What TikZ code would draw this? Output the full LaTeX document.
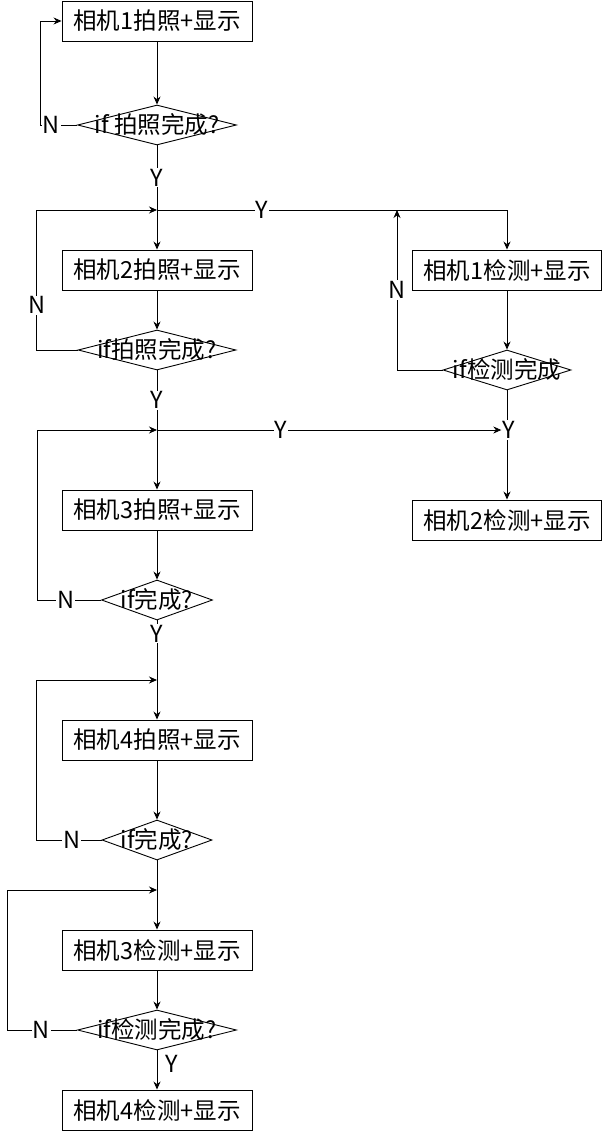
\documentclass[tikz,border=0pt]{standalone}
\usepackage{fontspec}
\setmainfont{Noto Sans CJK SC}
\usetikzlibrary{shapes.geometric, arrows.meta}

\begin{document}
\begin{tikzpicture}[x=1pt, y=-1pt,
    every node/.style={font=\fontsize{23.5}{26}\selectfont},
    box/.style={rectangle, draw, minimum width=190, minimum height=40, inner sep=0pt},
    cond/.style={diamond, draw, minimum height=40, inner sep=0pt},
    lbl/.style={fill=white, inner sep=1pt},
    arrow/.style={-{Stealth[length=8pt, width=7pt]}},
    line width=0.9pt]

  \useasboundingbox (0,0) rectangle (603,1131);

  % left column
  \node[box] (pCam1) at (157,21)   {相机1拍照+显示};
  \node[cond, minimum width=159, label={center:if 拍照完成?}] (qP1) at (157,125) {};
  \coordinate (jP2) at (157,210);
  \node[box] (pCam2) at (157,270)  {相机2拍照+显示};
  \node[cond, minimum width=158, label={center:if拍照完成?}] (qP2) at (157,350) {};
  \coordinate (jP3) at (157,430);
  \node[box] (pCam3) at (157,510)  {相机3拍照+显示};
  \node[cond, minimum width=111, label={center:if完成?}] (qP3) at (157,600) {};
  \coordinate (jP4) at (157,680);
  \node[box] (pCam4) at (157,740)  {相机4拍照+显示};
  \node[cond, minimum width=110, label={center:if完成?}] (qP4) at (157,840) {};
  \coordinate (jT3) at (157,890);
  \node[box] (tCam3) at (157,950)  {相机3检测+显示};
  \node[cond, minimum width=159, label={center:if检测完成?}] (qT3) at (157,1030) {};
  \node[box] (tCam4) at (157,1110) {相机4检测+显示};

  % right column
  \coordinate (jUp) at (397,210);
  \node[box, minimum width=189] (tCam1) at (507,270) {相机1检测+显示};
  \node[cond, minimum width=128, label={center:if检测完成}] (qT1) at (507,370) {};
  \node[lbl] (yT1) at (509,430) {Y};
  \node[box, minimum width=189] (tCam2) at (507,520) {相机2检测+显示};

  % camera 1 / 2
  \draw[arrow] (pCam1) -- (qP1);
  \draw[arrow] (qP1.west) -- node[lbl, pos=.7]{N} ++(-37,0) |- (pCam1.west);
  \draw (qP1) -- node[lbl]{Y} (jP2);
  \draw[arrow] (jP2) -- (pCam2);
  \draw[arrow] (jP2) -| node[lbl, pos=.15]{Y} (tCam1.north);
  \draw[arrow] (pCam2) -- (qP2);
  \draw[arrow] (qP2.west) -- ++(-41,0) |- node[lbl, pos=.16]{N} (jP2);
  \draw[arrow] (tCam1) -- (qT1);
  \draw[arrow] (qT1.west) -| node[lbl, pos=.75]{N} (jUp);
  \draw (qT1.south) -- (qT1.south |- yT1.north);
  \draw[arrow] (tCam2.north |- yT1.south) -- (tCam2);

  % camera 3
  \draw (qP2) -- node[lbl]{Y} (jP3);
  \draw[arrow] (jP3) -- node[lbl, pos=.36]{Y} (yT1);
  \draw[arrow] (jP3) -- (pCam3);
  \draw[arrow] (pCam3) -- (qP3);
  \draw[arrow] (qP3.west) -- node[lbl, pos=.55]{N} ++(-64,0) |- (jP3);

  % camera 4
  \draw (qP3) -- node[lbl, pos=.22]{Y} (jP4);
  \draw[arrow] (jP4) -- (pCam4);
  \draw[arrow] (pCam4) -- (qP4);
  \draw[arrow] (qP4.west) -- node[lbl, pos=.46]{N} ++(-65,0) |- (jP4);

  % detection 3 / 4
  \draw (qP4) -- (jT3);
  \draw[arrow] (jT3) -- (tCam3);
  \draw[arrow] (tCam3) -- (qT3);
  \draw[arrow] (qT3.west) -- node[lbl, pos=.51]{N} ++(-70,0) |- (jT3);
  \draw[arrow] (qT3) -- node[right=5pt, pos=.35]{Y} (tCam4);
\end{tikzpicture}
\end{document}
